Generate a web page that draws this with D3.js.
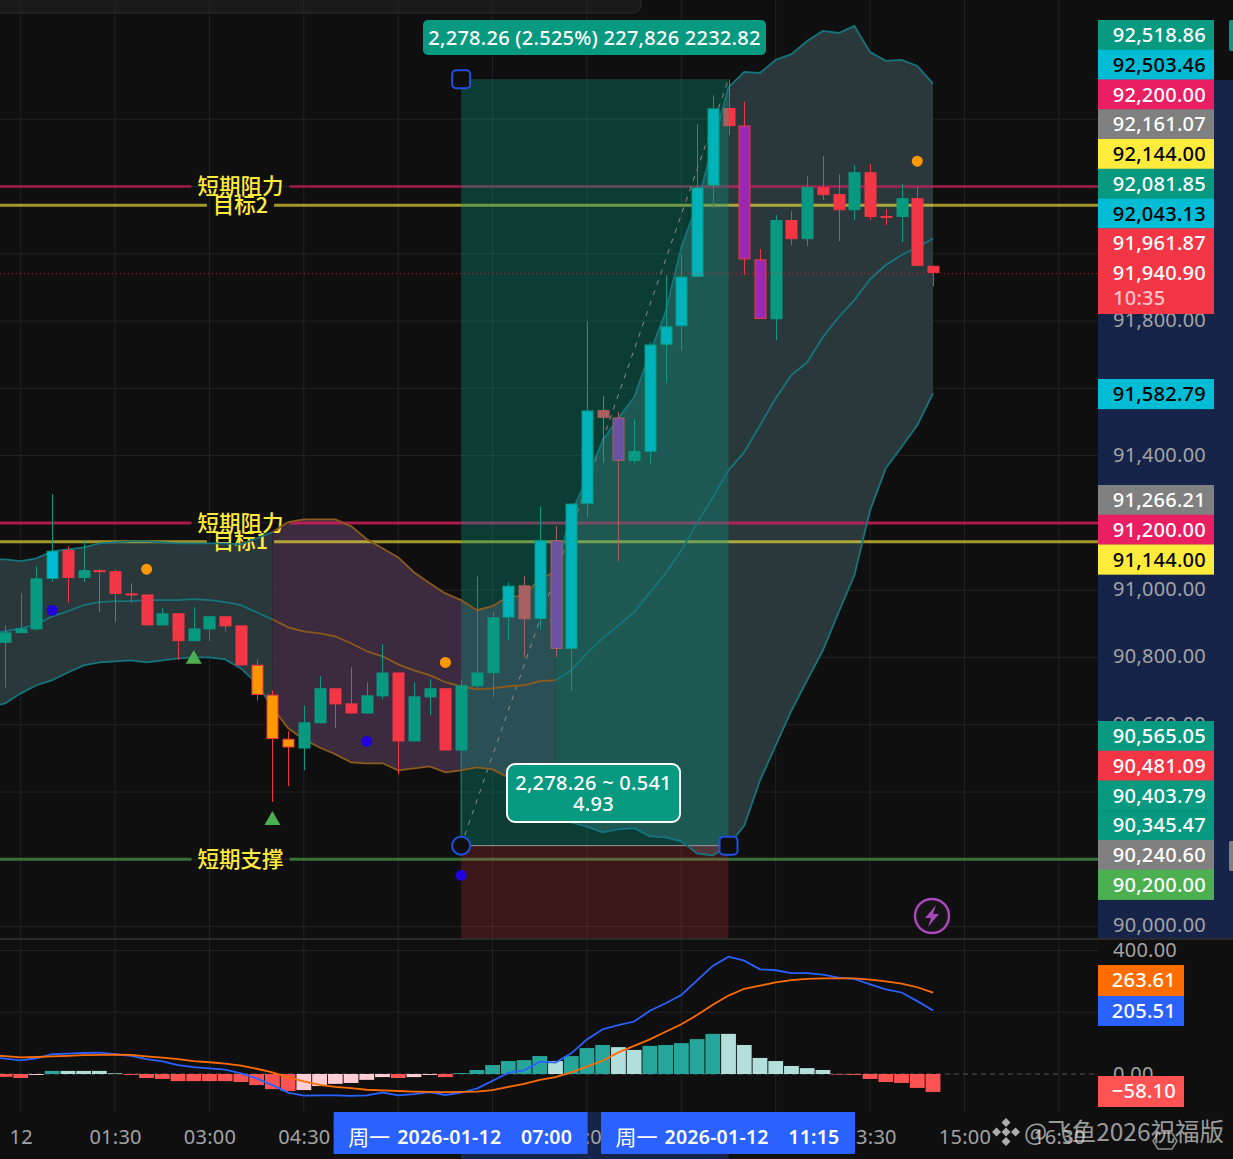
<!DOCTYPE html>
<html>
<head>
<meta charset="utf-8">
<script src="https://cdnjs.cloudflare.com/ajax/libs/d3/7.8.5/d3.min.js"></script>
<style>
    html, body { margin: 0; padding: 0; background: #0f0f0f; }
    svg { display: block; }
    text { font-family: "Noto Sans", "Noto Sans CJK SC", sans-serif; letter-spacing: 0.25px; }
    .cjk { font-family: "Noto Sans CJK SC", sans-serif; letter-spacing: 0; }
</style>
</head>
<body>
<script>
// 15 minute bars, bar 0 = 23:45
const opens = [90841,90870,90881,91031,91117,91034,91057,91054,90988,90985,90893,90929,90846,90881,90920,90893,90776,90687,90556,90527,90602,90706,90661,90631,90682,90753,90548,90679,90706,90521,90712,90751,90916,91012,90912,91146,90823,91254,91533,91511,91382,91409,91727,91782,91929,92200,92431,92379,91981,91803,92098,92041,92196,92175,92127,92240,92110,92107,92163,91961.87]
const highs = [90893,90988,91069,91283,91128,91146,91060,91060,91018,90985,90944,90929,90947,90920,90920,90893,90792,90700,90578,90655,90742,90706,90768,90724,90837,90753,90724,90733,90706,90733,91039,90935,91021,91039,91247,91188,91255,91797,91574,91527,91506,91734,91934,91997,92383,92469,92516,92449,92011,92113,92124,92229,92288,92234,92261,92264,92130,92205,92196,91962]
const lows = [90708,90868,90878,91022,90960,91022,90933,90903,90960,90893,90893,90790,90846,90846,90875,90774,90670,90368,90415,90462,90602,90587,90631,90631,90673,90450,90548,90626,90519,90521,90703,90679,90849,90799,90881,90799,90698,91215,91376,91084,91373,91373,91614,91711,91929,92134,92350,91934,91804,91741,92023,92020,92157,92035,92098,92098,92083,92032,91961,91901]
const closes = [90872,90884,91033,91115,91034,91057,91052,90986,90983,90893,90929,90846,90884,90920,90890,90774,90686,90555,90530,90605,90706,90658,90631,90685,90753,90548,90682,90706,90521,90715,90753,90917,91011,90911,91146,90823,91255,91532,91510,91382,91411,91728,91782,91930,92195,92430,92377,91981,91804,92098,92041,92196,92172,92127,92240,92107,92107,92163,91961.87,91940.90]

const cyanBars = [3,32,34,36,37,41,42,43,44,45]
const purpleBars = [35,39,47,48]
const orangeBars = [16,17,18]

const bandUpper = [91089,91084,91092,91113,91119,91125,91137,91140,91143,91143,91140,91137,91137,91137,91137,91134,91152,91170,91200,91208,91208,91208,91188,91149,91122,91095,91051,91018,90988,90968,90938,90950,90979,90979,91033,91051,91226,91330,91443,91509,91571,91702,91824,92017,92145,92318,92493,92538,92535,92574,92591,92630,92660,92654,92675,92597,92571,92574,92556,92503.46]
const bandMiddle = [90875,90884,90896,90920,90935,90953,90962,90965,90965,90968,90968,90968,90971,90968,90962,90953,90932,90911,90887,90875,90869,90860,90840,90816,90801,90777,90759,90745,90724,90712,90703,90706,90712,90715,90727,90730,90759,90810,90855,90893,90932,90991,91048,91116,91197,91274,91354,91408,91488,91568,91637,91675,91750,91809,91860,91922,91964,91994,92017,92043.13]
const bandLower = [90661,90691,90715,90730,90753,90774,90783,90786,90789,90783,90789,90795,90798,90798,90792,90765,90721,90649,90587,90554,90530,90510,90486,90483,90483,90462,90468,90474,90456,90462,90471,90465,90441,90403,90364,90328,90307,90295,90278,90287,90290,90266,90263,90251,90215,90209,90239,90298,90432,90536,90640,90730,90819,90932,91042,91235,91360,91423,91488,91582.79]

const macdHist = [-9,-13,-3,10,10,10,10,2,-3,-13,-16,-23,-23,-23,-23,-26,-36,-49,-55,-52,-39,-32,-29,-19,-10,-13,-10,-3,-10,3,13,29,42,45,58,42,58,84,94,87,78,91,94,100,113,130,130,94,52,42,26,19,13,-2,-3,-16,-26,-29,-45,-58.10]
const macdLine = [50,44,51,64,66,68,69,64,59,48,41,29,22,18,14,2,-14,-36,-60,-70,-69,-69,-71,-69,-60,-69,-65,-59,-68,-60,-47.5,-22,4,12,40,37,67,112,145,158,170,205,229,256,303,350,380,367,339,336,327,327,322,312,308,290,274,264,236,205.51]
const signalLine = [58,54,55,57,59,61,62,63,62,57,53,48,42,38,33.5,27,17,5,-11,-24,-35,-42,-46,-51,-53,-55,-57,-58,-59,-58,-57,-52,-42,-32,-19,-10,5,24,43,70,91,112,137,161,191,224,254,276,286,297,304,308,310,310,310,306,300,293,281,263.61]

// values of the bar just off the left edge
const leadUpper = 91090, leadMiddle = 90868, leadLower = 90650, leadMacd = 54, leadSignal = 60

// markers: [bar, price]
const orangeDots = [[9,91060],[28,90783],[58,92273]]
const blueDots = [[3,90938],[23,90548],[29,90150]]
const greenArrows = [[12,90795],[17,90316]]

const priceTicks = d3.range(90000, 92600, 200)
const macdTicks = [400, 200, 0]
const timeTickBars = [1,7,13,19,25,31,37,43,49,55,61,67]
const timeTickLabels = ['12','01:30','03:00','04:30','06:00','07:30','09:00','10:30','12:00','13:30','15:00','16:30']

const levelPrices = [92200, 92144, 91200, 91144, 90200]
const levelNames = ['短期阻力', '目标2', '短期阻力', '目标1', '短期支撑']
const levelColors = ['#e91e63', '#ffeb3b', '#e91e63', '#ffeb3b', '#4caf50']
const levelOpacity = [0.55, 0.62, 0.7, 0.62, 0.6]

const entryPrice = 90240.60
const targetPrice = 92518.86
const entryBar = 29
const exitBar = 46

const tagGroups = [
    { top: 20, tags: [['92,518.86','#089981','#fff'],['92,503.46','#00bcd4','#000'],['92,200.00','#e91e63','#fff'],['92,161.07','#808080','#fff'],['92,144.00','#ffeb3b','#000'],['92,081.85','#089981','#fff'],['92,043.13','#00bcd4','#000'],['91,961.87','#f23645','#fff'],['91,940.90','#f23645','#fff']] },
    { top: 379, tags: [['91,582.79','#00bcd4','#000']] },
    { top: 485, tags: [['91,266.21','#808080','#fff'],['91,200.00','#e91e63','#fff'],['91,144.00','#ffeb3b','#000']] },
    { top: 721, tags: [['90,565.05','#089981','#fff'],['90,481.09','#f23645','#fff'],['90,403.79','#089981','#fff'],['90,345.47','#089981','#fff'],['90,240.60','#808080','#fff'],['90,200.00','#4caf50','#fff']] }
]

const m = { width: 1233, height: 1159, axisX: 1098, paneBottom: 938, macdBottom: 1112 }
const green = '#089981', red = '#f23645', faded = '#a96060'
const bars = d3.range(opens.length)
// candles and bands sit a touch above the level lines
const nudge = 'translate(0,-0.8)'

const svg = d3.select('body').append('svg')
    .attr('width', m.width)
    .attr('height', m.height)

const x = d3.scaleLinear().domain([0, 59]).range([5, 933])
const y = d3.scaleLinear().domain([90200, 92200]).range([859.3, 186.5])
const yMacd = d3.scaleLinear().domain([0, 400]).range([1074, 950.5])

svg.append('rect').attr('width', m.width).attr('height', m.height).attr('fill', '#0f0f0f')

// price axis panel and the date range on the time axis
svg.append('rect').attr('x', m.axisX).attr('y', 80).attr('width', m.width - m.axisX).attr('height', m.paneBottom - 80).attr('fill', '#16244a')
svg.append('rect').attr('x', x(entryBar)).attr('y', m.macdBottom).attr('width', x(exitBar) - x(entryBar)).attr('height', m.height - m.macdBottom).attr('fill', '#16244a')

// popup edge at the top
svg.append('rect').attr('x', -10).attr('y', -20).attr('width', 651).attr('height', 33).attr('rx', 8)
    .attr('fill', '#1a1a1a').attr('stroke', '#2c2c2c')

// grid
const grid = svg.append('g').attr('stroke', '#232323').attr('stroke-width', 1)
priceTicks.forEach(function(p) {
    grid.append('line').attr('x1', 0).attr('x2', m.axisX).attr('y1', y(p)).attr('y2', y(p))
})
macdTicks.slice(0, 2).forEach(function(p) {
    grid.append('line').attr('x1', 0).attr('x2', m.axisX).attr('y1', yMacd(p)).attr('y2', yMacd(p))
})
timeTickBars.forEach(function(b) {
    grid.append('line').attr('x1', x(b)).attr('x2', x(b)).attr('y1', 0).attr('y2', m.paneBottom)
    grid.append('line').attr('x1', x(b)).attr('x2', x(b)).attr('y1', m.paneBottom).attr('y2', m.macdBottom)
})

// bollinger fill, three stretches (-1 is the bar off the left edge)
const upperAt = d => d < 0 ? leadUpper : bandUpper[d]
const middleAt = d => d < 0 ? leadMiddle : bandMiddle[d]
const lowerAt = d => d < 0 ? leadLower : bandLower[d]
const bandArea = d3.area().x(d => x(d)).y0(d => y(lowerAt(d))).y1(d => y(upperAt(d)))
const bandStretches = [[-1, 17, '#2a383b', '#14757d'], [17, 35, '#3c2b3f', '#8c5a1c'], [35, 59, '#2a383b', '#14757d']]
bandStretches.forEach(function(s) {
    svg.append('path').attr('d', bandArea(d3.range(s[0], s[1] + 1))).attr('fill', s[2]).attr('transform', nudge)
})

// level lines, with a gap for the name
const levels = svg.append('g')
const levelLabels = svg.append('g')
levelPrices.forEach(function(p, i) {
    const label = levelLabels.append('text').attr('class', 'cjk')
        .attr('x', 240.5).attr('y', y(p)).attr('dy', '0.36em')
        .attr('text-anchor', 'middle').attr('font-size', 21.5).attr('font-weight', 500).attr('fill', '#ffeb3b')
        .text(levelNames[i])
    const w = label.node().getComputedTextLength()
    levels.append('line').attr('x1', 0).attr('x2', 240.5 - w / 2 - 6)
        .attr('y1', y(p)).attr('y2', y(p))
        .attr('stroke', levelColors[i]).attr('stroke-width', 3).attr('opacity', levelOpacity[i])
    levels.append('line').attr('x1', 240.5 + w / 2 + 6).attr('x2', m.axisX)
        .attr('y1', y(p)).attr('y2', y(p))
        .attr('stroke', levelColors[i]).attr('stroke-width', 3).attr('opacity', levelOpacity[i])
})

// long position box
svg.append('rect').attr('x', x(entryBar)).attr('y', y(targetPrice))
    .attr('width', x(exitBar) - x(entryBar)).attr('height', y(entryPrice) - y(targetPrice))
    .attr('fill', green).attr('opacity', 0.34)
svg.append('rect').attr('x', x(entryBar)).attr('y', y(entryPrice))
    .attr('width', x(exitBar) - x(entryBar)).attr('height', m.paneBottom - y(entryPrice))
    .attr('fill', red).attr('opacity', 0.2)
svg.append('line').attr('x1', x(entryBar)).attr('x2', x(exitBar)).attr('y1', y(entryPrice)).attr('y2', y(entryPrice))
    .attr('stroke', '#9a9a9a').attr('stroke-width', 1)
svg.append('line').attr('x1', x(entryBar)).attr('x2', x(entryBar)).attr('y1', y(entryPrice)).attr('y2', y(closes[entryBar]))
    .attr('stroke', green).attr('stroke-width', 1)
svg.append('line').attr('x1', x(entryBar)).attr('x2', x(exitBar)).attr('y1', y(entryPrice)).attr('y2', y(targetPrice))
    .attr('stroke', '#8a8a8a').attr('stroke-width', 1).attr('stroke-dasharray', '5 6')

// bollinger lines
bandStretches.forEach(function(s) {
    [upperAt, middleAt, lowerAt].forEach(function(at) {
        const path = d3.line().x(d => x(d)).y(d => y(at(d)))
        svg.append('path').attr('d', path(d3.range(s[0], s[1] + 1)))
            .attr('fill', 'none').attr('stroke', s[3]).attr('stroke-width', 1.8).attr('transform', nudge)
    })
})

// candles
function candleLook(i) {
    const up = closes[i] >= opens[i]
    const inBox = i >= entryBar && i < exitBar
    const edge = up ? green : (inBox ? faded : red)
    let body = up ? green : (inBox ? faded : red)
    if (cyanBars.includes(i)) body = inBox ? '#00b3bb' : '#00bcd4'
    if (purpleBars.includes(i)) body = inBox ? '#6b52a0' : '#9c27b0'
    if (orangeBars.includes(i)) body = '#ff9800'
    return { body: body, edge: edge }
}

const candles = svg.append('g').attr('transform', nudge).selectAll('g').data(bars).enter().append('g')
candles.append('line')
    .attr('x1', d => Math.round(x(d)) + 0.5).attr('x2', d => Math.round(x(d)) + 0.5)
    .attr('y1', d => y(highs[d])).attr('y2', d => y(lows[d]))
    .attr('stroke', d => candleLook(d).edge).attr('stroke-width', 1)
candles.append('rect')
    .attr('x', d => Math.round(x(d)) - 5)
    .attr('width', 11)
    .attr('y', d => y(Math.max(opens[d], closes[d])) + 0.5)
    .attr('height', d => Math.max(1, Math.abs(y(opens[d]) - y(closes[d])) - 1))
    .attr('fill', d => candleLook(d).body)
    .attr('stroke', d => candleLook(d).edge).attr('stroke-width', 1)

// the last bar of the box is half covered
svg.append('rect')
    .attr('transform', nudge)
    .attr('x', Math.round(x(exitBar)) - 5.5)
    .attr('width', x(exitBar) - Math.round(x(exitBar)) + 5.5)
    .attr('y', y(opens[exitBar]))
    .attr('height', y(closes[exitBar]) - y(opens[exitBar]))
    .attr('fill', faded)

// markers
svg.append('g').attr('transform', nudge).selectAll('circle').data(orangeDots).enter().append('circle')
    .attr('cx', d => x(d[0])).attr('cy', d => y(d[1])).attr('r', 5.5).attr('fill', '#ff9800')
svg.append('g').attr('transform', nudge).selectAll('circle').data(blueDots).enter().append('circle')
    .attr('cx', d => x(d[0])).attr('cy', d => y(d[1])).attr('r', 5.5).attr('fill', '#2200dd')
svg.append('g').selectAll('path').data(greenArrows).enter().append('path')
    .attr('d', d3.symbol(d3.symbolTriangle, 110))
    .attr('transform', d => 'translate(' + x(d[0]) + ',' + y(d[1]) + ')')
    .attr('fill', '#4caf50')

// handles
svg.append('circle').attr('cx', x(entryBar)).attr('cy', y(entryPrice)).attr('r', 9)
    .attr('fill', '#0f0f0f').attr('stroke', '#2050e0').attr('stroke-width', 2)
;[[exitBar, entryPrice], [entryBar, targetPrice]].forEach(function(h) {
    svg.append('rect').attr('x', x(h[0]) - 9).attr('y', y(h[1]) - 9).attr('width', 18).attr('height', 18).attr('rx', 4)
        .attr('fill', '#0f0f0f').attr('stroke', '#2050e0').attr('stroke-width', 2)
})

// position labels
svg.append('rect').attr('x', 423).attr('y', 20).attr('width', 343).attr('height', 35).attr('rx', 5).attr('fill', green)
svg.append('text').attr('x', 594.5).attr('y', 38).attr('dy', '0.36em').attr('text-anchor', 'middle')
    .attr('font-size', 20).attr('font-weight', 500).attr('fill', '#fff').text('2,278.26 (2.525%) 227,826 2232.82')
svg.append('rect').attr('x', 507).attr('y', 764).attr('width', 173).attr('height', 58).attr('rx', 8)
    .attr('fill', green).attr('stroke', '#fff').attr('stroke-width', 2)
svg.append('text').attr('x', 593.5).attr('y', 783).attr('dy', '0.36em').attr('text-anchor', 'middle')
    .attr('font-size', 20).attr('font-weight', 500).attr('fill', '#fff').text('2,278.26 ~ 0.541')
svg.append('text').attr('x', 593.5).attr('y', 804).attr('dy', '0.36em').attr('text-anchor', 'middle')
    .attr('font-size', 20).attr('font-weight', 500).attr('fill', '#fff').text('4.93')

// lightning icon
svg.append('circle').attr('cx', 932).attr('cy', 916).attr('r', 17)
    .attr('fill', '#151515').attr('stroke', '#ab47bc').attr('stroke-width', 2.5)
svg.append('path').attr('transform', 'translate(932,916)')
    .attr('d', 'M4,-11 L-7,2 L-1,2 L-4,11 L7,-2 L1,-2 Z').attr('fill', '#ab47bc')

// macd
svg.append('line').attr('x1', 0).attr('x2', m.axisX).attr('y1', yMacd(0)).attr('y2', yMacd(0))
    .attr('stroke', '#555').attr('stroke-dasharray', '5 4')
svg.append('g').selectAll('rect').data(bars).enter().append('rect')
    .attr('x', d => x(d) - 7.4).attr('width', 14.8)
    .attr('y', d => Math.min(yMacd(macdHist[d]), yMacd(0)))
    .attr('height', d => Math.abs(yMacd(macdHist[d]) - yMacd(0)))
    .attr('fill', function(d) {
        const rising = d > 0 ? macdHist[d] > macdHist[d - 1] : false
        if (macdHist[d] >= 0) return rising ? '#26a69a' : '#b2dfdb'
        return rising ? '#ffcdd2' : '#ff5252'
    })
const macdPath = (s, lead) => d3.line().x(d => x(d)).y(d => yMacd(d < 0 ? lead : s[d]))(d3.range(-1, s.length))
svg.append('path').attr('d', macdPath(macdLine, leadMacd)).attr('fill', 'none').attr('stroke', '#2962ff').attr('stroke-width', 1.8)
svg.append('path').attr('d', macdPath(signalLine, leadSignal)).attr('fill', 'none').attr('stroke', '#ff6d00').attr('stroke-width', 1.8)

// axes
function styleAxis(g) {
    g.select('.domain').remove()
    g.selectAll('line').remove()
    g.selectAll('text').attr('font-size', 20).attr('fill', '#a3a3a3').attr('font-family', '"Noto Sans", sans-serif')
}
svg.append('g').attr('transform', 'translate(' + m.axisX + ',-1)')
    .call(d3.axisRight(y).tickValues(priceTicks).tickFormat(d3.format(',.2f')).tickSize(0).tickPadding(15))
    .call(styleAxis)
svg.append('g').attr('transform', 'translate(' + m.axisX + ',0)')
    .call(d3.axisRight(yMacd).tickValues(macdTicks).tickFormat(d3.format('.2f')).tickSize(0).tickPadding(15))
    .call(styleAxis)
svg.append('g').attr('transform', 'translate(0,' + m.macdBottom + ')')
    .call(d3.axisBottom(x).tickValues(timeTickBars).tickFormat((d, i) => timeTickLabels[i]).tickSize(0).tickPadding(18))
    .call(styleAxis)

// separator between panes
svg.append('rect').attr('x', 0).attr('y', m.paneBottom).attr('width', m.width).attr('height', 2).attr('fill', '#2a2a2a')

// price tags
function tag(top, h, w, color, textColor, label, textX) {
    svg.append('rect').attr('x', m.axisX).attr('y', top).attr('width', w).attr('height', h).attr('fill', color)
    svg.append('text').attr('x', textX).attr('y', top + 15).attr('dy', '0.36em').attr('text-anchor', 'end')
        .attr('font-size', 20).attr('font-weight', 500).attr('fill', textColor).text(label)
}
const tagHeight = 29.75
tagGroups.forEach(function(g) {
    g.tags.forEach(function(t, i) {
        tag(g.top + i * tagHeight, tagHeight + 0.4, 116, t[1], t[2], t[0], 1206)
    })
})
// countdown under the last price
svg.append('rect').attr('x', m.axisX).attr('y', 285).attr('width', 116).attr('height', 29).attr('fill', red)
svg.append('text').attr('x', 1113).attr('y', 298).attr('dy', '0.36em')
    .attr('font-size', 20).attr('font-weight', 500).attr('fill', '#ffc4ca').text('10:35')

tag(965, 31, 86, '#ff6d00', '#fff', '263.61', 1176)
tag(996, 30, 86, '#2962ff', '#fff', '205.51', 1176)
tag(1076, 31, 86, '#ff5252', '#fff', '\u221258.10', 1176)

// current price dotted line
svg.append('line').attr('x1', 0).attr('x2', m.axisX).attr('y1', y(closes[59])).attr('y2', y(closes[59]))
    .attr('stroke', red).attr('stroke-opacity', 0.6).attr('stroke-dasharray', '1 3')

// edge tabs
svg.append('rect').attr('x', 1229).attr('y', 20).attr('width', 8).attr('height', 31).attr('rx', 2).attr('fill', green)
svg.append('rect').attr('x', 1229).attr('y', 841).attr('width', 8).attr('height', 30).attr('rx', 2).attr('fill', '#808080')

// crosshair date labels
;[[entryBar, '周一 2026-01-12', '07:00'], [exitBar, '周一 2026-01-12', '11:15']].forEach(function(d) {
    const cx = x(d[0])
    svg.append('rect').attr('x', cx - 127.5).attr('y', m.macdBottom).attr('width', 254).attr('height', 42).attr('rx', 1).attr('fill', '#2962ff')
    svg.append('text').attr('x', cx - 113).attr('y', 1137).attr('font-size', 21).attr('fill', '#fff')
        .attr('dy', '0.36em').attr('class', 'cjk').text('周一')
    svg.append('text').attr('x', cx - 64).attr('y', 1137).attr('font-size', 19.5).attr('font-weight', 600).attr('fill', '#fff')
        .attr('dy', '0.36em').text(d[1].split(' ')[1])
    svg.append('text').attr('x', cx + 111).attr('y', 1137).attr('font-size', 19.5).attr('font-weight', 600).attr('fill', '#fff')
        .attr('dy', '0.36em').attr('text-anchor', 'end').text(d[2])
})

// watermark
const mark = svg.append('g').attr('fill', 'rgba(225,225,225,0.75)').attr('transform', 'translate(1006,1132)')
;[[0,-9.5],[-9.5,0],[9.5,0],[0,9.5],[0,0]].forEach(function(p) {
    mark.append('rect').attr('x', p[0] - 3.2).attr('y', p[1] - 3.2)
        .attr('width', 6.4).attr('height', 6.4)
        .attr('transform', 'rotate(45 ' + p[0] + ' ' + p[1] + ')')
})
svg.append('text').attr('class', 'cjk').attr('x', 1024).attr('y', 1132).attr('dy', '0.36em')
    .attr('font-size', 24.5).attr('fill', 'rgba(225,225,225,0.68)').text('@飞鱼2026祝福版')
svg.append('path').attr('d', 'M1158,1133 L1172,1133 L1177,1141 L1172,1149 L1158,1149 L1153,1141 Z')
    .attr('fill', 'none').attr('stroke', 'rgba(225,225,225,0.6)').attr('stroke-width', 1.5)
</script>
</body>
</html>
